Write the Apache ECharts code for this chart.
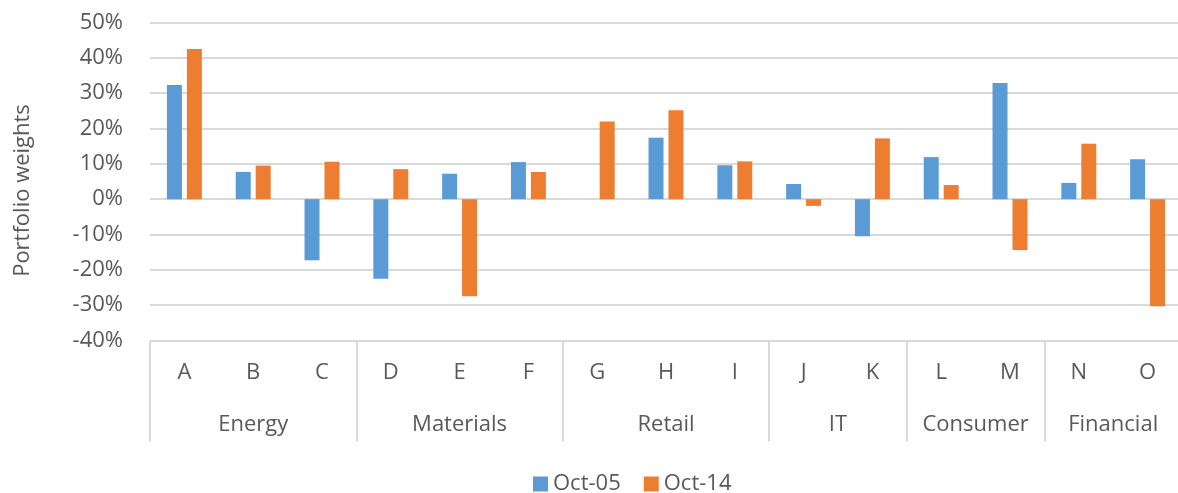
<!DOCTYPE html>
<html>
<head>
<meta charset="utf-8">
<script src="https://cdn.jsdelivr.net/npm/echarts@6/dist/echarts.min.js"></script>
<style>
  html, body { margin: 0; padding: 0; background: #fff; }
  #chart { width: 1178px; height: 493px; }
</style>
</head>
<body>
<div id="chart"></div>
<script>
// data (percent)
var stocks = ['A', 'B', 'C', 'D', 'E', 'F', 'G', 'H', 'I', 'J', 'K', 'L', 'M', 'N', 'O'];
var sectors = ['Energy', 'Materials', 'Retail', 'IT', 'Consumer', 'Financial'];
var sectorSizes = [3, 3, 3, 2, 2, 2];
var oct05 = [32.3, 7.7, -17.3, -22.5, 7.2, 10.5, 0, 17.4, 9.6, 4.3, -10.5, 11.9, 32.9, 4.6, 11.3];
var oct14 = [42.5, 9.5, 10.6, 8.5, -27.5, 7.7, 22.0, 25.2, 10.7, -1.9, 17.2, 4.0, -14.4, 15.7, -30.3];
var yTicks = { min: -40, max: 50, step: 10 };

var textColor = '#595959';
var lineColor = '#d9d9d9';
var fontFamily = '"Open Sans", sans-serif';

// first index of each sector, and its centre on a 0..n scale
var groupStart = {};
var groupCentre = {};
var acc = 0;
sectors.forEach(function(s, i) {
  groupStart[acc] = true;
  groupCentre[acc + sectorSizes[i] / 2] = s;
  acc += sectorSizes[i];
});

var chart = echarts.init(document.getElementById('chart'));

chart.setOption({
  animation: false,
  textStyle: { fontFamily: fontFamily },
  grid: { left: 150, right: -4, top: 22.5, bottom: 152.5, containLabel: false, outerBoundsMode: 'none' },
  legend: {
    data: ['Oct-05', 'Oct-14'],
    left: 528,
    top: 468,
    icon: 'rect',
    itemWidth: 15,
    itemHeight: 15,
    itemGap: 23,
    textStyle: { fontSize: 22, color: textColor, fontFamily: fontFamily }
  },
  xAxis: [{
    type: 'category',
    data: stocks,
    position: 'bottom',
    axisLine: { show: true, onZero: false, lineStyle: { color: lineColor, width: 2 } },
    axisTick: {
      show: true,
      inside: false,
      length: 101,
      interval: function(index) { return !!groupStart[index]; },
      lineStyle: { color: lineColor, width: 2 }
    },
    axisLabel: {
      interval: 0,
      margin: 21,
      fontSize: 22,
      color: textColor,
      fontFamily: fontFamily
    },
    splitLine: { show: false }
  }, {
    // sector labels under the stock letters
    type: 'value',
    position: 'bottom',
    min: 0,
    max: stocks.length,
    interval: 0.5,
    axisLine: { show: false, onZero: false },
    axisTick: { show: false },
    splitLine: { show: false },
    axisLabel: {
      margin: 73,
      fontSize: 22,
      color: textColor,
      fontFamily: fontFamily,
      formatter: function(v) { return groupCentre[v] || ''; }
    }
  }],
  yAxis: {
    type: 'value',
    min: yTicks.min,
    max: yTicks.max,
    interval: yTicks.step,
    name: 'Portfolio weights',
    nameLocation: 'middle',
    nameRotate: 90,
    nameGap: 116,
    nameTextStyle: { fontSize: 22, color: textColor, fontFamily: fontFamily, padding: [0, 18, 0, 0] },
    axisLine: { show: false },
    axisTick: { show: false },
    axisLabel: {
      margin: 27,
      fontSize: 22,
      color: textColor,
      fontFamily: fontFamily,
      formatter: '{value}%'
    },
    splitLine: { lineStyle: { color: lineColor, width: 2 } }
  },
  series: [{
    name: 'Oct-05',
    type: 'bar',
    data: oct05,
    barWidth: 15,
    barGap: '33%',
    itemStyle: { color: '#5B9BD5' }
  }, {
    name: 'Oct-14',
    type: 'bar',
    data: oct14,
    barWidth: 15,
    itemStyle: { color: '#ED7D31' }
  }]
});
</script>
</body>
</html>
